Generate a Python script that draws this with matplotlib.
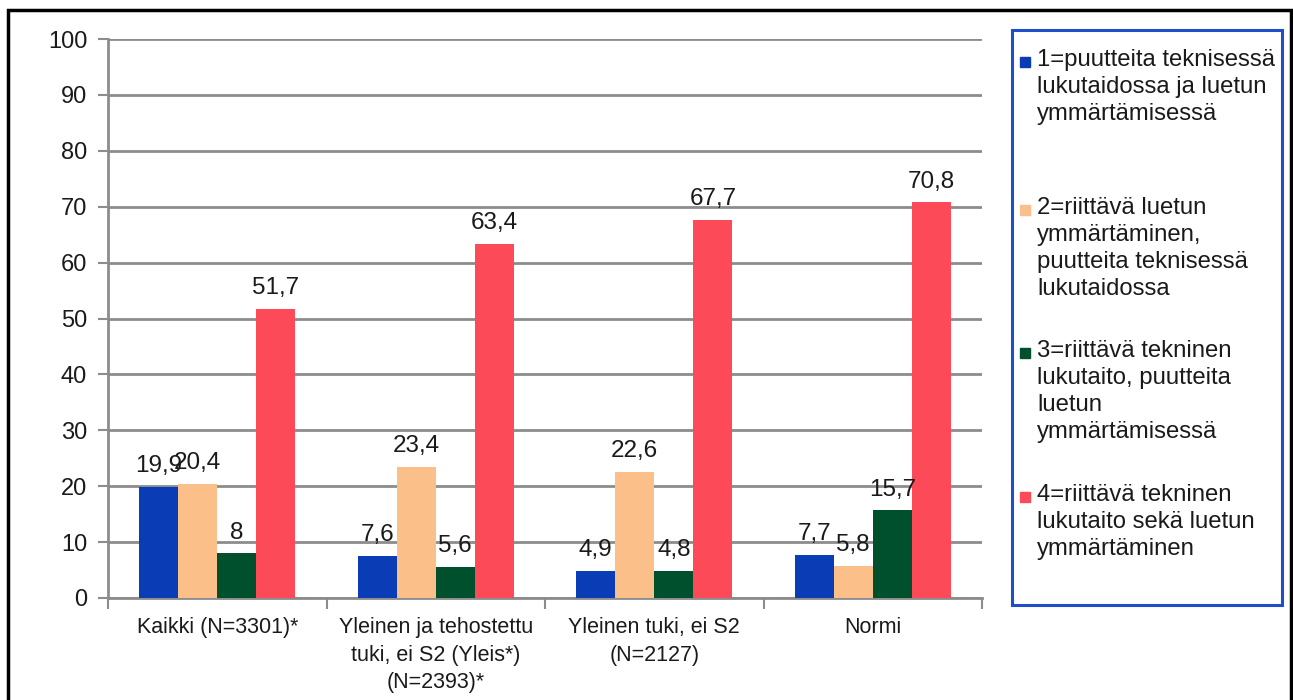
import matplotlib
matplotlib.use("Agg")
import matplotlib.pyplot as plt
import matplotlib.patches as mpatches
import numpy as np

plt.rcParams["font.family"] = ["Liberation Sans", "DejaVu Sans"]

# Data
categories = [
    "Kaikki (N=3301)*",
    "Yleinen ja tehostettu\ntuki, ei S2 (Yleis*)\n(N=2393)*",
    "Yleinen tuki, ei S2\n(N=2127)",
    "Normi",
]
series_labels = [
    "1=puutteita teknisessä\nlukutaidossa ja luetun\nymmärtämisessä",
    "2=riittävä luetun\nymmärtäminen,\npuutteita teknisessä\nlukutaidossa",
    "3=riittävä tekninen\nlukutaito, puutteita\nluetun\nymmärtämisessä",
    "4=riittävä tekninen\nlukutaito sekä luetun\nymmärtäminen",
]
level1 = [19.9, 7.6, 4.9, 7.7]
level2 = [20.4, 23.4, 22.6, 5.8]
level3 = [8, 5.6, 4.8, 15.7]
level4 = [51.7, 63.4, 67.7, 70.8]
colors = ["#0a3db5", "#fbc08a", "#00502d", "#fd4a58"]

series = [level1, level2, level3, level4]

fig = plt.figure(figsize=(12.93, 7.0), dpi=100)
ax = fig.add_axes([108 / 1293, 1 - 598 / 700, (982 - 108) / 1293, (598 - 39) / 700])

x = np.arange(len(categories))
width = 0.179
for i, (vals, col) in enumerate(zip(series, colors)):
    pos = x + (i - 1.5) * width
    bars = ax.bar(pos, vals, width, color=col, zorder=3)
    for b, v in zip(bars, vals):
        ax.annotate(f"{v:g}".replace(".", ","), (b.get_x() + b.get_width() / 2, v),
                    xytext=(0, 7), textcoords="offset points",
                    ha="center", va="bottom", fontsize=17.5, color="#1a1a1a", zorder=4)

ax.set_xlim(-0.5, len(categories) - 0.5)
ax.set_ylim(0, 100)
ax.set_yticks(np.arange(0, 101, 10))
ax.yaxis.grid(True, color="#8c8c8c", linewidth=2, zorder=0)
ax.set_xticks(x)
ax.set_xticklabels(categories, fontsize=15.5, linespacing=1.4, color="#1a1a1a")
ax.set_xticks(np.arange(-0.5, len(categories), 1), minor=True)
ax.tick_params(axis="x", which="major", length=0, pad=14)
ax.tick_params(axis="x", which="minor", length=8, width=1.5, color="#8c8c8c")
ax.tick_params(axis="y", length=7, width=1.5, color="#8c8c8c", labelsize=17,
               labelcolor="#1a1a1a", pad=8)
for side in ["top", "right"]:
    ax.spines[side].set_visible(False)
for side in ["left", "bottom"]:
    ax.spines[side].set_color("#8c8c8c")
    ax.spines[side].set_linewidth(2)

# Legend box drawn manually so the markers sit on the first text line
W, H = 1293, 700
fig.patches.append(mpatches.Rectangle((1012 / W, 1 - 605 / H), 270 / W, 575 / H,
                                      transform=fig.transFigure, fill=False,
                                      edgecolor="#1f4fc8", linewidth=2.2))
entry_y = [62, 210, 353, 497]
for lab, col, yy in zip(series_labels, colors, entry_y):
    fig.patches.append(mpatches.Rectangle((1020 / W, 1 - (yy + 5) / H), 10 / W, 10 / H,
                                          transform=fig.transFigure, color=col))
    fig.text(1037 / W, 1 - (yy - 13) / H, lab, ha="left", va="top", fontsize=17.2,
             linespacing=1.3, color="#1a1a1a")

# Outer frame
fig.patches.append(mpatches.Rectangle((8 / W, -0.05), 1283 / W, 1.05 - 10 / H,
                                      transform=fig.transFigure, fill=False,
                                      edgecolor="black", linewidth=2.5))

fig.savefig("out.png", dpi=100)
